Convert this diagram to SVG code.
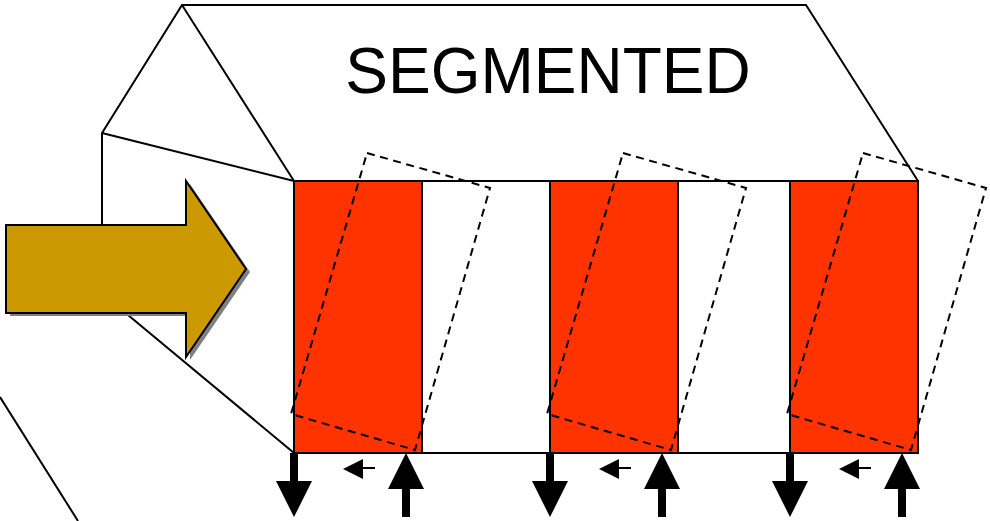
<svg xmlns="http://www.w3.org/2000/svg" width="990" height="521" viewBox="0 0 990 521">
<style>
.o{fill:none;stroke:#000;stroke-width:2;stroke-linejoin:miter}
.r{fill:#FF3300;stroke:#000;stroke-width:2}
.d{fill:none;stroke:#000;stroke-width:2;stroke-dasharray:8 5.6}
.k{fill:#000;stroke:none}
.s{stroke:#000;stroke-width:2;fill:none}
text{font-family:"Liberation Sans",Arial,sans-serif;fill:#000}
</style>
<defs>
<g id="down"><path class="k" d="M-4 0H4V28H18L0 64L-18 28H-4Z"/></g>
<g id="up"><path class="k" d="M0 0L18 36H4V64H-4V36H-18Z"/></g>
<g id="small"><path class="k" d="M0 0L20 -10V10Z"/><path class="s" d="M20 -1H32"/></g>
</defs>
<rect width="990" height="521" fill="#fff"/>
<g id="outline">
<path class="o" d="M102 225V133L182 5H806L918 181"/>
<path class="o" d="M182 5L294 181M102 133L294 181H918"/>
<path class="o" d="M128 315L294 453"/>
<path class="o" d="M0 397L78 521"/>
</g>
<g id="segments">
<rect class="r" x="294" y="181" width="128" height="272"/>
<rect class="r" x="550" y="181" width="128" height="272"/>
<rect class="r" x="790" y="181" width="128" height="272"/>
<path class="s" d="M294 453H918"/>
</g>
<g id="dashed">
<path class="d" d="M367 153L490 188L415 450L291 414Z"/>
<path class="d" d="M623 153L746 188L671 450L547 414Z"/>
<path class="d" d="M863 153L986 188L911 450L787 414Z"/>
</g>
<g id="flow-arrow">
<path fill="#808080" d="M10 228H190V184L250 272L190 360V316H10Z"/>
<path fill="#CC9900" stroke="#000" stroke-width="2" d="M6 225H186V181L246 269L186 357V313H6Z"/>
</g>
<g id="connectors">
<use href="#down" x="294" y="453"/><use href="#up" x="406" y="453"/><use href="#small" x="343" y="469"/>
<use href="#down" x="550" y="453"/><use href="#up" x="662" y="453"/><use href="#small" x="599" y="469"/>
<use href="#down" x="790" y="453"/><use href="#up" x="902" y="453"/><use href="#small" x="839" y="469"/>
</g>
<text id="title" x="548" y="93" font-size="64" text-anchor="middle">SEGMENTED</text>
</svg>
